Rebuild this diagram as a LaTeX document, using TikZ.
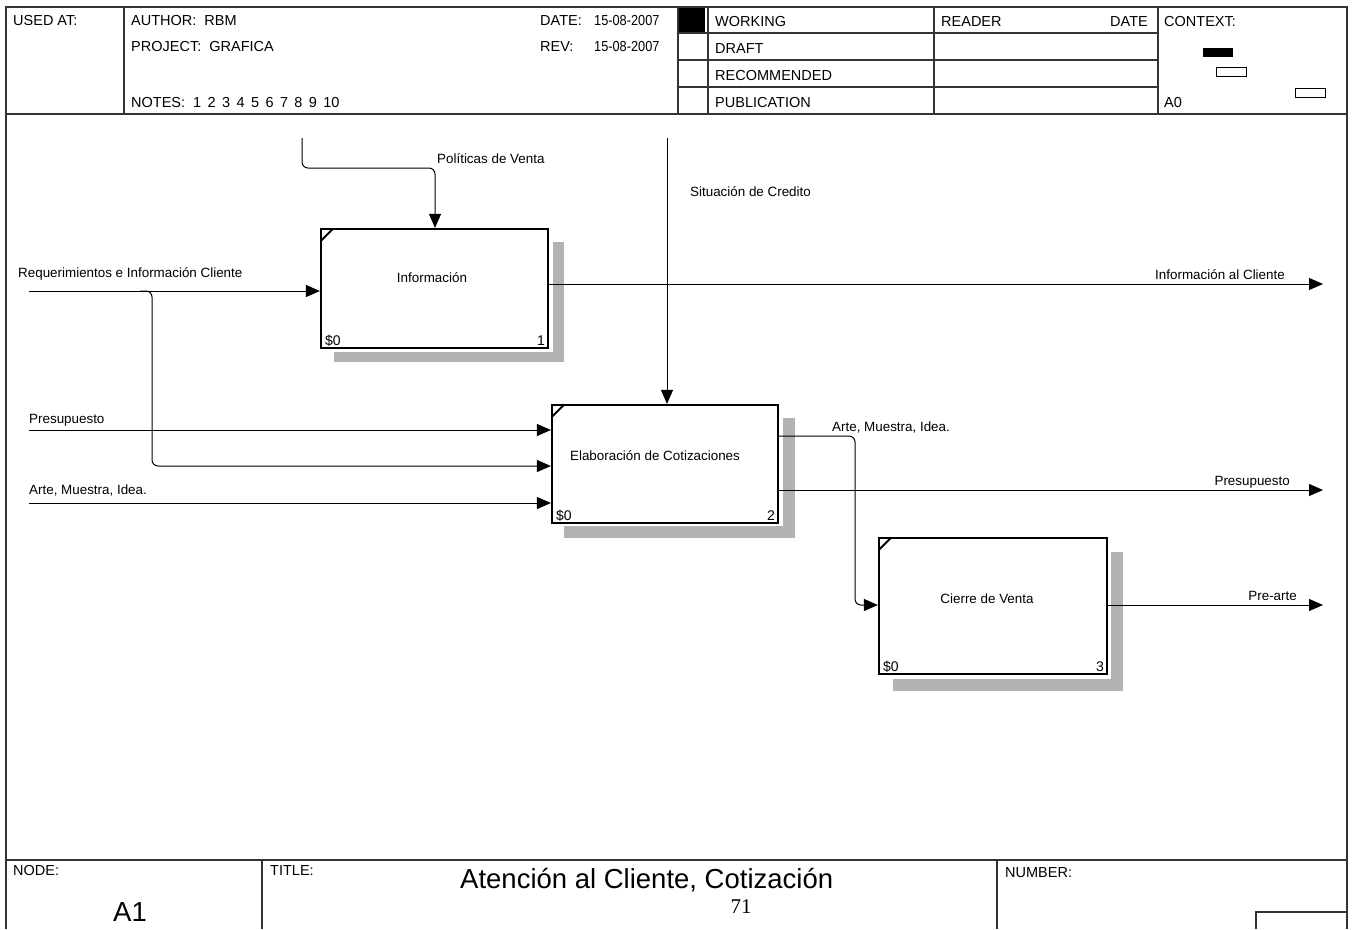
\documentclass[tikz,border=0pt]{standalone}
\usepackage{fontspec}
\setmainfont{Liberation Sans}
\newfontfamily\datefont[FakeStretch=0.88]{Liberation Sans}
\newfontfamily\pagefont{Liberation Serif}
\usetikzlibrary{arrows.meta,calc}
\newcommand\notegap{\hspace{6.4pt}}

\begin{document}
\begin{tikzpicture}[x=1pt,y=-1pt,
  frame/.style={draw=black!80,line width=1.4pt},
  act/.style={draw,line width=2.2pt,fill=white,inner sep=0pt},
  shade/.style={fill=black!30},
  lbl/.style={font=\fontsize{13.4}{15}\selectfont,inner sep=0pt},
  hdr/.style={font=\fontsize{14.5}{16}\selectfont,inner sep=0pt,anchor=base west},
  num/.style={font=\fontsize{14}{16}\selectfont,inner sep=0pt},
  arr/.style={line width=1pt,-{Triangle[length=14pt,width=12pt]}},
  cornermark/.style={line width=2pt}]

\useasboundingbox (0,0) rectangle (1352,929);

% ---- sheet frame: header ----
\draw[frame] (6,929) -- (6,7) -- (1347,7) -- (1347,929);
\draw[frame] (6,114) -- (1347,114);
\draw[frame] (124,7) -- (124,114);
\draw[frame] (678,7) -- (678,114);
\draw[frame] (708,7) -- (708,114);
\draw[frame] (934,7) -- (934,114);
\draw[frame] (1158,7) -- (1158,114);
\foreach \yy in {33,60,87} \draw[frame] (678,\yy) -- (1158,\yy);
\fill (679,8) rectangle (705,32);

% context thumbnails
\fill (1203,48) rectangle (1233,57);
\draw[line width=1pt] (1216,67) rectangle (1246,76);
\draw[line width=1pt] (1295,88) rectangle (1325,97);

% ---- sheet frame: footer ----
\draw[frame] (6,860) -- (1347,860);
\draw[frame] (262,860) -- (262,929);
\draw[frame] (997,860) -- (997,929);
\draw[frame] (1256,929) -- (1256,912) -- (1347,912);

% header texts
\node[hdr] (hUsed) at (13,25) {USED AT:};
\node[hdr] (hAuth) at (131,25) {AUTHOR:\ \ RBM};
\node[hdr] (hProj) at (131,51) {PROJECT:\ \ GRAFICA};
\node[hdr] (hNotes) at (131,107) {NOTES:\ \ 1\notegap 2\notegap 3\notegap 4\notegap 5\notegap 6\notegap 7\notegap 8\notegap 9\notegap 10};
\node[hdr] (hDate) at (540,25) {DATE:};
\node[hdr,font=\fontsize{14.5}{16}\datefont] (hDateV) at (594,25) {15-08-2007};
\node[hdr] (hRev) at (540,51) {REV:};
\node[hdr,font=\fontsize{14.5}{16}\datefont] (hRevV) at (594,51) {15-08-2007};
\node[hdr] (hWork) at (715,26) {WORKING};
\node[hdr] (hDraft) at (715,53) {DRAFT};
\node[hdr] (hRec) at (715,80) {RECOMMENDED};
\node[hdr] (hPub) at (715,107) {PUBLICATION};
\node[hdr] (hReader) at (941,26) {READER};
\node[hdr,anchor=base east] (hRDate) at (1148,26) {DATE};
\node[hdr] (hCtx) at (1164,26) {CONTEXT:};
\node[hdr] (hA0) at (1164,107) {A0};

% footer texts
\node[hdr] (fNode) at (13,875) {NODE:};
\node[hdr] (fTitle) at (270,875) {TITLE:};
\node[hdr] (fNum) at (1005,877) {NUMBER:};
\node[inner sep=0pt,anchor=base,font=\fontsize{27.5}{30}\selectfont] (fA1) at (130,921) {A1};
\node[inner sep=0pt,anchor=base west,font=\fontsize{27.5}{30}\selectfont] (fTitleV) at (460,888) {Atención al Cliente, Cotización};
\node[inner sep=0pt,anchor=base,font=\fontsize{21}{24}\pagefont] (fPage) at (741,913) {71};

% ---- activity boxes ----
\coordinate (c1) at (434.5,288.5);
\coordinate (c2) at (665,464);
\coordinate (c3) at (993,606);

% drop shadows
\fill[shade] ($(c1)+(118.5,-46.5)$) rectangle ($(c1)+(129.5,73.5)$);
\fill[shade] ($(c1)+(-100.5,63.5)$) rectangle ($(c1)+(129.5,73.5)$);
\fill[shade] ($(c2)+(118,-46)$) rectangle ($(c2)+(130,74)$);
\fill[shade] ($(c2)+(-101,62)$) rectangle ($(c2)+(130,74)$);
\fill[shade] ($(c3)+(118,-54)$) rectangle ($(c3)+(130,85)$);
\fill[shade] ($(c3)+(-100,73)$) rectangle ($(c3)+(130,85)$);

\node[act,minimum width=227pt,minimum height=119pt] (b1) at (c1) {};
\node[act,minimum width=226pt,minimum height=118pt] (b2) at (c2) {};
\node[act,minimum width=228pt,minimum height=136pt] (b3) at (c3) {};

% corner marks
\foreach \b in {b1,b2,b3}
  \draw[cornermark] ($(\b.north west)+(1,13)$) -- ($(\b.north west)+(13,1)$);

% box texts
\node[lbl,anchor=base] (t1) at (432,282) {Información};
\node[lbl,anchor=base] (t2) at (655,460) {Elaboración de Cotizaciones};
\node[lbl,anchor=base] (t3) at (987,603) {Cierre de Venta};
\node[num,anchor=base west] (n1a) at ($(b1.south west)+(5,-4)$) {\$0};
\node[num,anchor=base east] (n1b) at ($(b1.south east)+(-4,-4)$) {1};
\node[num,anchor=base west] (n2a) at ($(b2.south west)+(5,-4)$) {\$0};
\node[num,anchor=base east] (n2b) at ($(b2.south east)+(-4,-4)$) {2};
\node[num,anchor=base west] (n3a) at ($(b3.south west)+(5,-4)$) {\$0};
\node[num,anchor=base east] (n3b) at ($(b3.south east)+(-4,-4)$) {3};

% ---- connectors ----
\coordinate (reqS) at (29,291);
\draw[arr] (reqS) -- (reqS -| b1.west);
\coordinate (brA) at (140,291);
\coordinate (brC) at (152,466);
\draw[arr,rounded corners=6pt] (brA) -| (brC) -- (brC -| b2.west);
\coordinate (preS) at (29,430);
\draw[arr] (preS) -- (preS -| b2.west);
\coordinate (artS) at (29,503);
\draw[arr] (artS) -- (artS -| b2.west);
\coordinate (polS) at (302,138);
\coordinate (polK) at (435,168);
\draw[arr,rounded corners=6pt] (polS) |- (polK) -- (polK |- b1.north);
\coordinate (sitS) at (667,138);
\draw[arr] (sitS) -- (sitS |- b2.north);
\coordinate (o1) at (1323,284);
\draw[arr] (o1 -| b1.east) -- (o1);
\coordinate (o2) at (1323,490);
\draw[arr] (o2 -| b2.east) -- (o2);
\coordinate (o3) at (1323,605);
\draw[arr] (o3 -| b3.east) -- (o3);
\coordinate (amY) at (855,436);
\coordinate (amB) at (855,605);
\draw[arr,rounded corners=6pt] (amY -| b2.east) -- (amY) -- (amB) -- (amB -| b3.west);

% connector labels
\node[lbl,anchor=base west] (lReq) at (18,277) {Requerimientos e Información Cliente};
\node[lbl,anchor=base west] (lPre) at (29,423) {Presupuesto};
\node[lbl,anchor=base west] (lArt) at (29,494) {Arte, Muestra, Idea.};
\node[lbl,anchor=base west] (lPol) at (437,163) {Políticas de Venta};
\node[lbl,anchor=base west] (lSit) at (690,196) {Situación de Credito};
\node[lbl,anchor=base east] (lInf) at (1285,279) {Información al Cliente};
\node[lbl,anchor=base west] (lArt2) at (832,431) {Arte, Muestra, Idea.};
\node[lbl,anchor=base east] (lPre2) at (1290,485) {Presupuesto};
\node[lbl,anchor=base east] (lPa) at (1297,600) {Pre-arte};

\end{tikzpicture}
\end{document}
